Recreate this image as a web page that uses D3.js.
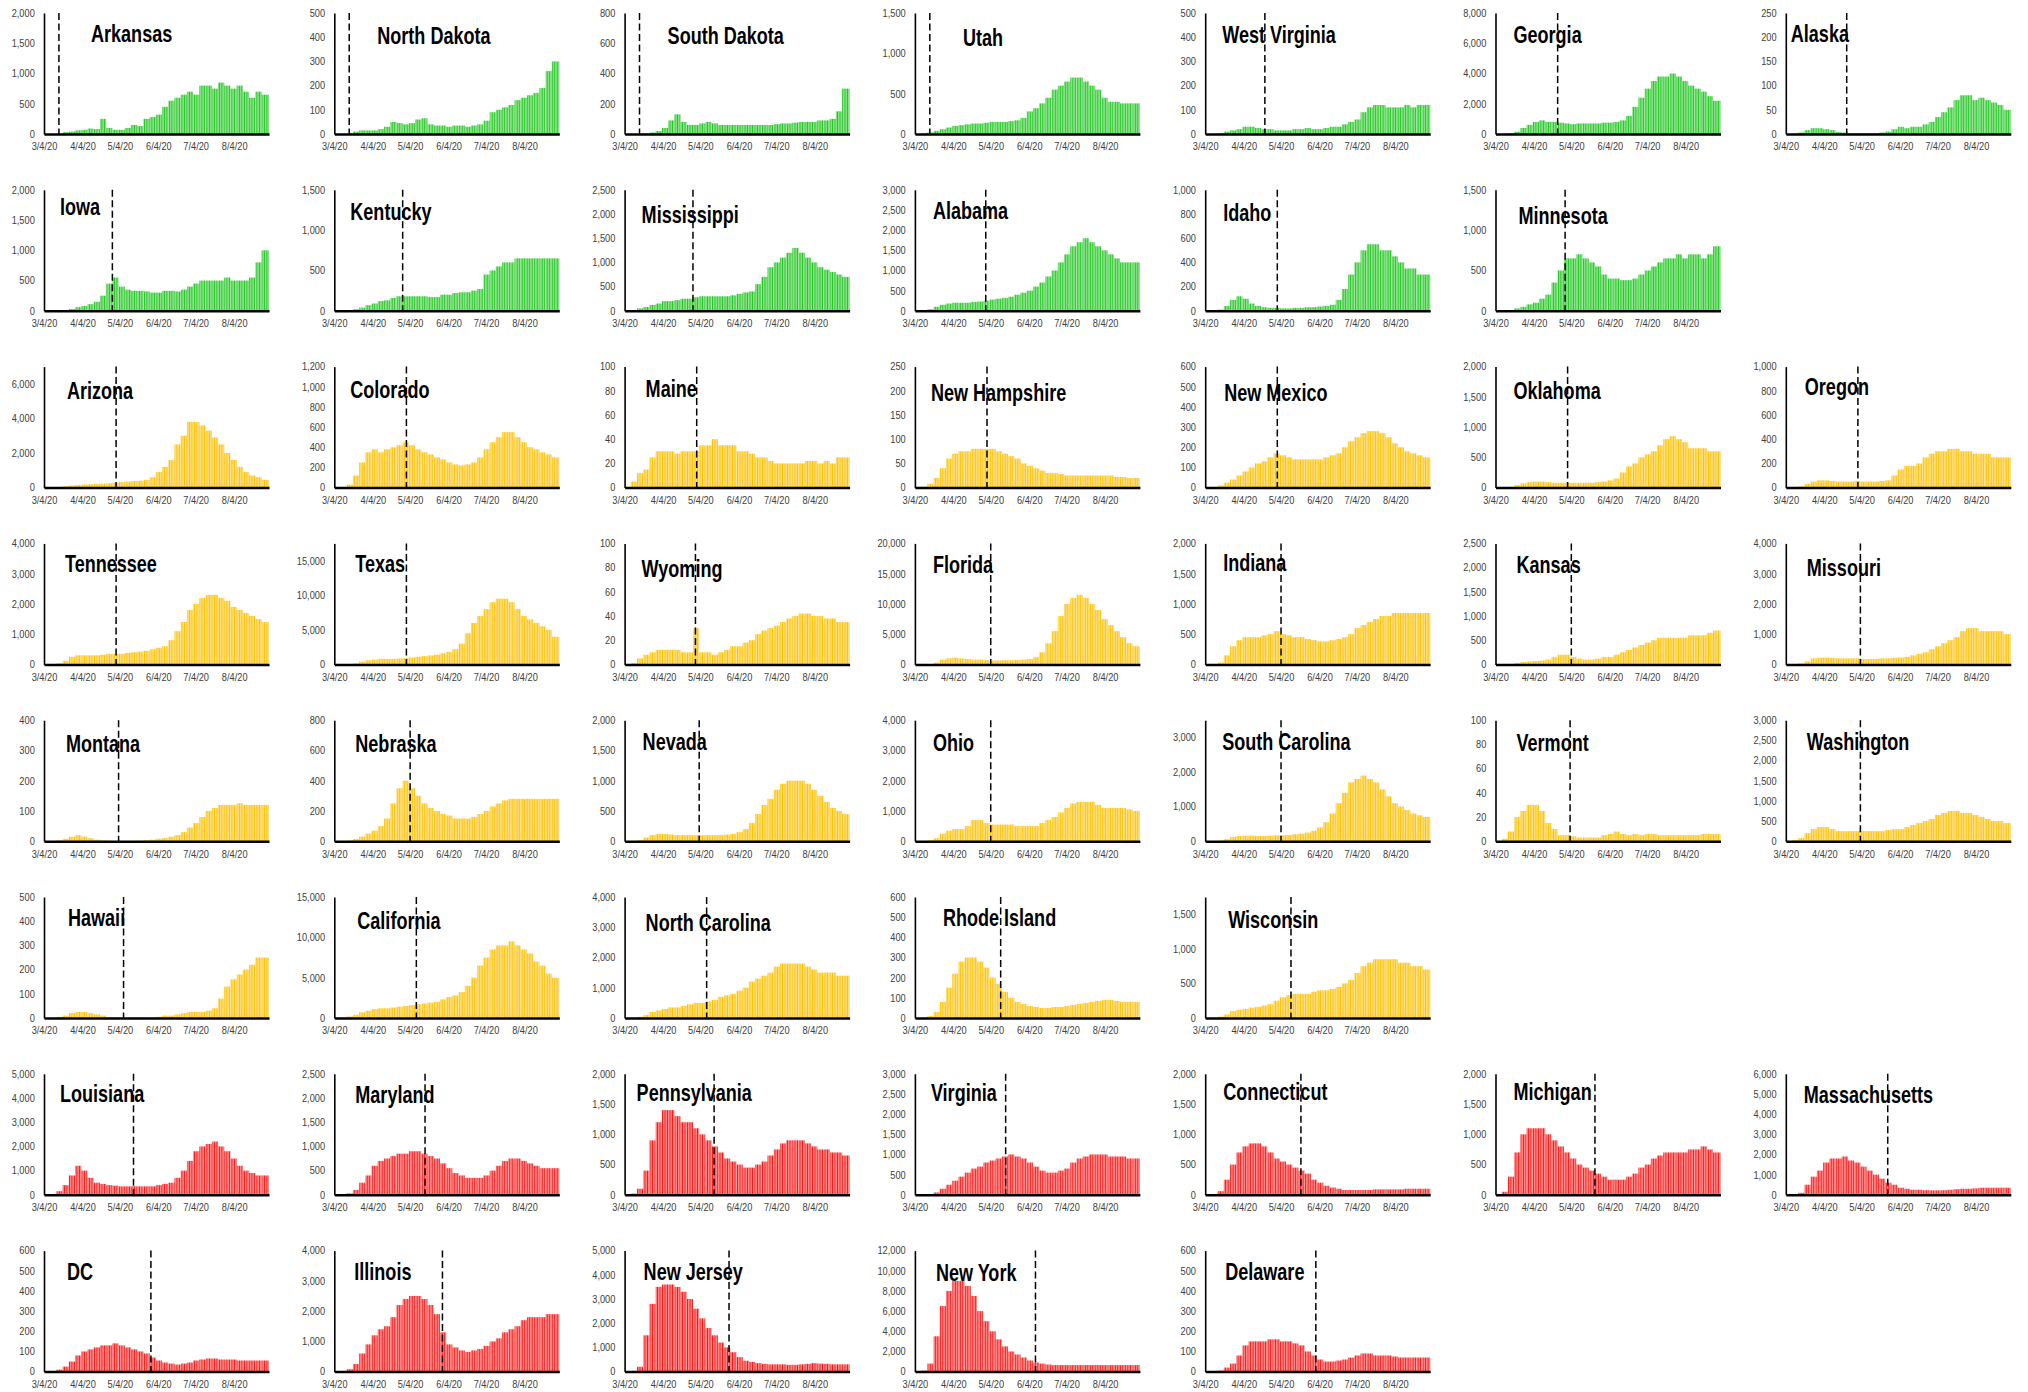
<!DOCTYPE html>
<html>
<head>
<meta charset="utf-8">
<script src="https://cdn.jsdelivr.net/npm/d3@7"></script>
<style>
  body { margin: 0; background: #fff; }
  text { font-family: "Liberation Sans", Arial, sans-serif; }
  .tick text { fill: #404040; font-size: 10.5px; }
  .title { font-weight: bold; font-size: 23px; fill: #000; }
</style>
</head>
<body>
<svg id="chart" width="2028" height="1392"></svg>
<script>
var states = [
  "Arkansas", "North Dakota", "South Dakota", "Utah", "West Virginia", "Georgia", "Alaska",
  "Iowa", "Kentucky", "Mississippi", "Alabama", "Idaho", "Minnesota",
  "Arizona", "Colorado", "Maine", "New Hampshire", "New Mexico", "Oklahoma", "Oregon",
  "Tennessee", "Texas", "Wyoming", "Florida", "Indiana", "Kansas", "Missouri",
  "Montana", "Nebraska", "Nevada", "Ohio", "South Carolina", "Vermont", "Washington",
  "Hawaii", "California", "North Carolina", "Rhode Island", "Wisconsin",
  "Louisiana", "Maryland", "Pennsylvania", "Virginia", "Connecticut", "Michigan", "Massachusetts",
  "DC", "Illinois", "New Jersey", "New York", "Delaware"
];
var rowSizes = [7, 6, 7, 7, 7, 5, 7, 5];
var rowGroup = ["green", "green", "yellow", "yellow", "yellow", "yellow", "red", "red"];

var yMax = [2000, 500, 800, 1500, 500, 8000, 250,
  2000, 1500, 2500, 3000, 1000, 1500,
  7000, 1200, 100, 250, 600, 2000, 1000,
  4000, 17500, 100, 20000, 2000, 2500, 4000,
  400, 800, 2000, 4000, 3500, 100, 3000,
  500, 15000, 4000, 600, 1750,
  5000, 2500, 2000, 3000, 2000, 2000, 6000,
  600, 4000, 5000, 12000, 600];
var yStep = [500, 100, 200, 500, 100, 2000, 50,
  500, 500, 500, 500, 200, 500,
  2000, 200, 20, 50, 100, 500, 200,
  1000, 5000, 20, 5000, 500, 500, 1000,
  100, 200, 500, 1000, 1000, 20, 500,
  100, 5000, 1000, 100, 500,
  1000, 500, 500, 500, 500, 500, 1000,
  100, 1000, 1000, 2000, 100];
// day (after 3/4/20) of the dashed reopening line
var openDay = [12, 12, 12, 12, 48, 50, 49,
  55, 55, 55, 57, 58, 56,
  58, 58, 58, 58, 58, 58, 58,
  58, 58, 57, 61, 61, 61, 60,
  60, 61, 60, 61, 61, 60, 60,
  64, 66, 66, 69, 69,
  72, 73, 72, 73, 77, 80, 82,
  86, 87, 84, 97, 89];

var cases = [
  [0,0,5,30,40,60,70,90,80,250,100,70,70,100,150,130,250,280,320,450,550,600,650,700,650,800,800,750,850,800,750,800,700,600,700,650],
  [0,0,2,10,15,15,15,20,30,50,45,40,45,60,65,40,35,35,30,35,35,30,35,40,55,90,100,110,120,140,150,160,170,190,260,300],
  [0,0,2,5,10,20,40,90,130,80,60,60,70,80,70,60,60,60,60,60,60,60,60,60,65,70,70,75,80,80,80,90,90,100,150,300],
  [0,5,20,40,60,80,100,110,120,130,130,140,150,150,150,160,170,200,280,320,380,450,550,600,650,700,700,650,600,550,450,400,400,380,380,380],
  [0,0,2,10,15,20,30,30,25,20,20,15,15,15,20,20,25,20,20,25,30,30,40,50,60,90,110,120,120,110,110,110,120,110,120,120],
  [0,10,50,150,400,600,800,900,800,800,750,700,650,700,700,700,700,750,750,800,900,1200,1800,2400,3000,3500,3800,3800,4000,3800,3500,3200,3000,2800,2500,2200],
  [0,1,3,8,12,12,10,8,4,3,2,2,2,2,2,3,5,10,15,12,15,15,20,25,35,45,55,70,80,80,70,75,70,65,60,50],
  [0,0,2,10,30,60,80,110,150,250,450,550,400,350,330,330,320,300,300,330,330,320,350,400,450,500,500,500,500,550,500,500,500,550,800,1000],
  [0,0,2,20,40,70,90,120,130,160,180,180,180,180,180,170,170,200,200,220,230,230,250,270,450,500,550,600,600,650,650,650,650,650,650,650],
  [0,0,50,80,120,150,200,200,220,250,250,280,300,300,300,300,300,320,350,380,400,550,700,900,1000,1100,1200,1300,1200,1100,1000,900,850,800,750,700],
  [0,10,40,100,150,180,200,200,200,220,230,250,280,300,320,350,400,450,500,600,700,850,1000,1200,1400,1600,1700,1800,1700,1600,1500,1400,1300,1200,1200,1200],
  [0,0,10,40,90,120,100,60,40,30,25,25,20,20,25,25,30,30,35,40,50,90,180,300,400,500,550,550,500,500,450,400,350,350,300,300],
  [0,2,10,30,50,80,100,150,200,350,500,650,650,700,650,600,550,450,400,400,380,380,400,450,500,550,600,650,650,700,650,700,700,650,700,800],
  [0,5,30,80,120,150,180,200,220,230,250,280,320,350,380,400,450,600,900,1200,1600,2500,3000,3800,3800,3600,3300,2900,2500,2000,1600,1200,900,700,600,450],
  [0,5,30,120,250,350,380,350,380,400,420,450,420,380,350,330,300,280,250,230,220,230,250,300,380,450,500,550,550,500,450,400,380,350,330,300],
  [0,5,12,15,25,30,30,30,28,30,30,30,35,35,40,35,35,35,30,30,28,25,25,22,20,20,20,20,20,22,22,20,22,20,25,25],
  [0,2,8,20,40,60,70,75,75,80,80,80,80,75,70,65,60,50,45,40,35,30,30,28,25,25,25,25,25,25,25,25,22,22,20,20],
  [0,2,10,25,40,60,80,100,120,130,150,170,160,150,140,140,140,140,140,150,160,170,200,230,250,270,280,280,270,250,220,200,180,170,160,150],
  [0,2,10,40,70,90,100,100,90,80,80,80,80,80,80,80,90,100,120,150,250,350,400,500,550,600,700,800,850,800,750,650,650,650,600,600],
  [0,2,10,30,50,60,60,55,50,50,50,55,50,50,50,55,60,100,150,180,180,200,250,280,300,300,320,320,300,300,280,280,280,250,250,250],
  [0,5,40,120,250,300,300,300,300,320,350,350,350,380,400,420,450,500,550,600,800,1100,1400,1800,2000,2200,2300,2300,2200,2100,1900,1800,1700,1600,1500,1400],
  [0,5,30,150,400,600,700,800,800,800,850,900,1000,1100,1200,1300,1400,1600,1800,2200,3000,4500,6000,7000,8000,9000,9500,9500,9000,8000,7000,6500,6000,5500,5000,4000],
  [0,1,5,8,10,12,12,12,12,10,10,30,10,10,8,10,12,15,15,18,20,25,28,30,32,35,38,40,42,42,40,40,38,38,35,35],
  [0,5,50,300,800,1000,1100,1000,900,800,800,700,650,650,700,700,750,800,900,1200,2000,3500,5500,8000,10000,11000,11500,11000,10000,9000,7500,6500,5500,4500,3500,3000],
  [0,5,30,150,300,400,450,450,450,480,500,550,500,480,450,450,420,400,380,380,400,420,450,500,600,650,700,750,800,800,850,850,850,850,850,850],
  [0,2,10,30,50,60,70,80,100,150,200,200,150,120,100,100,120,150,150,200,250,300,350,400,450,500,550,550,550,550,550,600,600,600,650,700],
  [0,5,30,100,200,220,230,220,200,200,200,200,180,180,180,200,200,220,230,250,300,350,400,500,600,700,800,900,1100,1200,1200,1100,1100,1100,1100,1000],
  [0,1,3,8,15,20,15,10,5,3,2,1,1,1,1,2,3,5,8,10,15,20,30,45,60,80,100,110,120,120,120,125,120,120,120,120],
  [0,2,5,15,30,50,70,100,150,250,350,400,350,300,250,220,200,180,170,150,150,150,160,180,200,230,250,270,280,280,280,280,280,280,280,280],
  [0,5,20,60,100,120,120,110,100,100,100,100,100,100,100,100,110,120,150,200,300,450,600,700,850,950,1000,1000,1000,950,850,750,650,550,500,450],
  [0,5,30,100,250,350,400,400,500,700,700,600,550,550,550,550,500,500,500,500,600,700,800,950,1100,1250,1300,1300,1300,1200,1100,1100,1100,1100,1050,1000],
  [0,5,20,60,120,150,160,160,150,150,160,170,170,180,200,220,250,300,400,550,800,1100,1400,1700,1800,1900,1800,1700,1500,1300,1100,1000,900,800,750,700],
  [0,2,8,20,25,30,30,25,15,10,5,5,4,3,3,3,3,5,6,8,6,5,6,5,6,6,5,5,5,5,5,5,5,6,6,6],
  [5,30,80,200,300,350,350,300,250,250,250,250,250,250,250,250,280,300,300,350,400,450,500,550,650,700,750,750,700,700,650,600,550,500,500,450],
  [0,2,5,10,20,25,25,20,15,10,3,2,2,2,2,2,3,3,5,10,10,15,20,25,25,25,30,40,80,130,160,180,200,220,250,250],
  [50,100,200,400,700,900,1100,1200,1200,1300,1400,1500,1600,1700,1800,1900,2000,2300,2600,2800,3200,4000,5000,6500,7500,8500,9000,9000,9500,9000,8500,8000,7000,6500,5500,5000],
  [0,10,40,100,200,250,300,350,350,400,450,500,500,550,600,700,750,800,900,1000,1200,1300,1400,1500,1700,1800,1800,1800,1800,1700,1600,1500,1500,1500,1400,1400],
  [0,2,10,30,80,150,220,280,300,300,280,250,200,170,130,100,80,70,60,55,50,50,55,55,60,65,70,75,80,85,90,90,85,80,80,80],
  [0,5,20,50,100,120,130,150,160,180,200,250,300,330,350,350,350,380,400,400,420,450,500,550,650,750,800,850,850,850,850,800,800,750,750,700],
  [0,20,150,400,800,1200,1000,700,500,450,400,380,350,350,350,350,350,350,400,450,500,700,1000,1400,1800,2000,2100,2200,2000,1800,1500,1200,1000,900,800,800],
  [0,5,30,100,250,400,600,700,750,800,850,850,900,900,850,800,750,650,550,450,400,350,350,350,400,500,600,700,750,750,700,650,600,550,550,550],
  [0,20,100,400,900,1200,1400,1400,1300,1200,1200,1100,1000,900,800,700,600,550,500,450,450,500,550,650,750,850,900,900,900,850,800,750,750,700,700,650],
  [0,5,20,60,150,250,350,450,550,650,700,800,850,900,950,1000,950,900,800,700,600,550,550,600,650,800,900,950,1000,1000,1000,950,950,950,900,900],
  [0,10,60,250,500,700,800,850,850,800,700,600,550,500,450,400,350,250,200,150,120,100,80,80,80,80,80,90,90,90,90,90,100,100,100,100],
  [0,50,300,700,1000,1100,1100,1100,1000,900,800,700,600,500,450,400,350,300,250,250,250,300,350,450,500,600,650,700,700,700,700,750,750,800,750,700],
  [0,20,100,500,900,1200,1600,1800,1800,1900,1700,1600,1400,1200,1000,800,600,500,350,300,250,250,230,220,220,230,250,280,300,300,320,350,350,350,350,350],
  [0,2,10,25,50,80,100,110,120,130,130,140,130,120,110,100,90,70,55,45,40,35,40,45,55,60,65,65,60,60,60,55,55,55,55,55],
  [0,10,80,250,600,900,1200,1400,1500,1800,2200,2400,2500,2500,2400,2200,1900,1300,900,800,700,650,700,750,850,1000,1100,1300,1400,1500,1700,1800,1800,1800,1900,1900],
  [0,20,200,1500,2800,3500,3600,3600,3500,3300,3000,2600,2200,1800,1500,1200,1000,800,600,450,400,350,320,300,300,300,280,280,300,320,350,330,320,300,300,300],
  [0,100,800,3500,6500,8000,9000,9000,8500,7500,6000,5000,4000,3200,2500,2000,1700,1400,1100,900,800,700,650,650,650,650,650,650,650,650,650,650,650,650,650,650],
  [0,2,5,20,40,80,130,150,150,150,160,160,150,150,140,130,100,80,60,50,50,55,60,70,80,90,90,80,80,80,75,70,70,70,70,70]
];
var tickLabels = ["3/4/20", "4/4/20", "5/4/20", "6/4/20", "7/4/20", "8/4/20"];

// layout
var colX0 = 44, colPitch = 290.3, plotW = 225;
var rowTop0 = 13, rowPitch = 176.8, plotH = 121;
var nDays = 181, binDays = 5;
var narrow = 0.785, tickNarrow = 0.88;
// title offset from the top of the y axis, per panel
var titlePos = [
  [47, 29], [43, 31], [43, 31], [48, 33], [17, 30], [18, 30], [5, 29],
  [16, 25], [16, 30], [17, 33], [18, 29], [18, 31], [23, 34],
  [23, 32], [16, 31], [21, 30], [16, 34], [19, 34], [18, 32], [19, 28],
  [21, 29], [21, 29], [17, 34], [18, 30], [18, 28], [21, 30], [21, 33],
  [22, 32], [21, 32], [18, 30], [18, 31], [17, 30], [21, 31], [21, 30],
  [24, 29], [23, 32], [21, 34], [28, 29], [23, 31],
  [16, 28], [21, 29], [12, 27], [16, 27], [18, 26], [18, 26], [18, 29],
  [23, 29], [20, 29], [19, 29], [21, 30], [20, 29]
];
var palette = {
  green: ["#22c622", "#80e080"],
  yellow: ["#ffc000", "#ffdb70"],
  red: ["#ff1414", "#ff8080"]
};

var svg = d3.select("#chart");
var defs = svg.append("defs");
Object.keys(palette).forEach(function(k) {
  var p = defs.append("pattern")
    .attr("id", "stripe-" + k)
    .attr("patternUnits", "userSpaceOnUse")
    .attr("width", 2.5).attr("height", 10);
  p.append("rect").attr("width", 1.25).attr("height", 10).attr("fill", palette[k][0]);
  p.append("rect").attr("x", 1.25).attr("width", 1.25).attr("height", 10).attr("fill", palette[k][1]);
});

var parseDate = d3.timeParse("%m/%d/%y");
var start = parseDate("3/4/20");
var tickDates = tickLabels.map(parseDate);
var x = d3.scaleTime()
  .domain([start, d3.timeDay.offset(start, nDays)])
  .range([0, plotW]);

var idx = 0;
rowSizes.forEach(function(n, r) {
  for (var c = 0; c < n; c++, idx++) {
    var i = idx;
    var g = svg.append("g")
      .attr("transform", "translate(" + (colX0 + c * colPitch) + "," + (rowTop0 + r * rowPitch) + ")");

    var y = d3.scaleLinear().domain([0, yMax[i]]).range([plotH, 0]);

    g.selectAll("rect.bar")
      .data(cases[i])
      .enter().append("rect")
      .attr("class", "bar")
      .attr("x", function(d, k) { return x(d3.timeDay.offset(start, k * binDays)); })
      .attr("width", function(d, k) {
        var end = (k === cases[i].length - 1) ? nDays : (k + 1) * binDays;
        return x(d3.timeDay.offset(start, end)) - x(d3.timeDay.offset(start, k * binDays));
      })
      .attr("y", function(d) { return y(d); })
      .attr("height", function(d) { return plotH - y(d); })
      .attr("fill", "url(#stripe-" + rowGroup[r] + ")");

    g.append("text")
      .attr("class", "title")
      .attr("transform", "translate(" + titlePos[i][0] + "," + titlePos[i][1] + ") scale(" + narrow + ",1)")
      .text(states[i]);

    var xo = x(d3.timeDay.offset(start, openDay[i]));
    g.append("line")
      .attr("x1", xo).attr("x2", xo)
      .attr("y1", 0).attr("y2", plotH)
      .attr("stroke", "#000")
      .attr("stroke-width", 1.5)
      .attr("stroke-dasharray", "7,3.5");

    var ya = g.append("g")
      .call(d3.axisLeft(y)
        .tickValues(d3.range(0, yMax[i] + 1, yStep[i]))
        .tickSize(0)
        .tickPadding(10.5)
        .tickFormat(d3.format(",")));
    ya.select(".domain").attr("stroke", "#000").attr("stroke-width", 1.6);
    ya.selectAll("text").attr("transform", "scale(" + tickNarrow + ",1)");

    var xa = g.append("g")
      .attr("transform", "translate(0," + plotH + ")")
      .call(d3.axisBottom(x)
        .tickValues(tickDates)
        .tickSize(0)
        .tickPadding(9)
        .tickFormat(d3.timeFormat("%-m/%-d/%y")));
    xa.select(".domain").attr("stroke", "#000").attr("stroke-width", 2.5);
    xa.selectAll("text").attr("transform", "scale(" + tickNarrow + ",1)");
  }
});
</script>
</body>
</html>
